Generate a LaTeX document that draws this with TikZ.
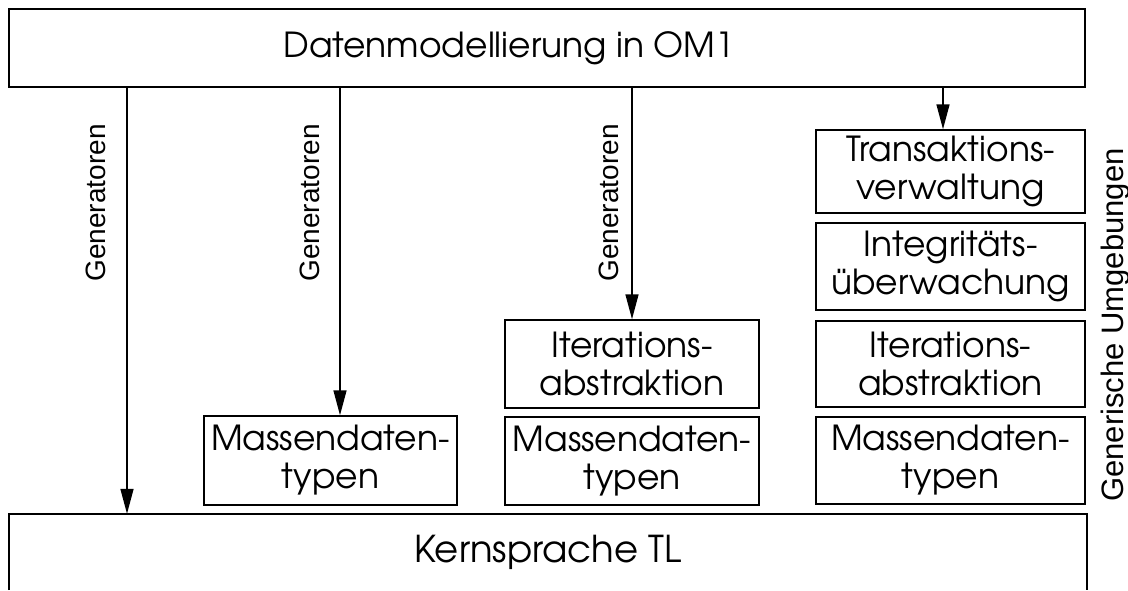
\documentclass[tikz,border=0pt]{standalone}
\usepackage{fontspec}
\setmainfont{texgyreadventor-regular.otf}
\newfontfamily\labelfont{Liberation Sans}
\usetikzlibrary{arrows.meta}

\begin{document}
\begin{tikzpicture}[x={(1pt,0pt)}, y={(0pt,-1pt)},
  boxfont/.style={font=\fontsize{34.5}{38}\selectfont},
  box/.style={draw, line width=1.5pt, inner sep=0pt, align=center, boxfont},
  arr/.style={line width=1.5pt, -{Triangle[length=25pt,width=13pt]}},
  gen/.style={font=\labelfont\fontsize{28}{30}\selectfont, rotate=90, inner sep=0pt}]

\useasboundingbox (0,0) rectangle (1128,590);

% top layer: data modelling
\node[box, minimum width=1076pt, minimum height=78pt] (om1) at (547,48) {};
\node[boxfont, inner sep=0pt, xshift=-38pt] (om1text) at (om1.center) {Datenmodellierung in OM1};

% bottom layer: kernel language, open at the lower edge
\node[inner sep=0pt, minimum width=1078pt, minimum height=76pt,
      font=\fontsize{37}{40}\selectfont] (tl) at (548,552) {Kernsprache TL};
\draw[line width=1.5pt] (tl.south west) -- (tl.north west) -- (tl.north east) -- (tl.south east);

% column 2
\node[box, minimum width=253pt, minimum height=89pt] (m1) at (330.5,460.5) {Massendaten-\\typen};

% column 3
\node[box, minimum width=254pt, minimum height=88pt] (i2) at (632,364) {Iterations-\\abstraktion};
\node[box, minimum width=254pt, minimum height=88pt] (m2) at (632,461) {Massendaten-\\typen};

% column 4: generic environments
\node[box, minimum width=269pt, minimum height=83pt] (t3) at (950.5,171.5) {Transaktions-\\verwaltung};
\node[box, minimum width=269pt, minimum height=87pt] (g3) at (950.5,266.5) {Integritäts-\\überwachung};
\node[box, minimum width=269pt, minimum height=86pt] (i3) at (950.5,364) {Iterations-\\abstraktion};
\node[box, minimum width=269pt, minimum height=87pt] (m3) at (950.5,460.5) {Massendaten-\\typen};

\node[gen, font=\labelfont\fontsize{31}{32}\selectfont] (umg) at (1115,325) {Generische Umgebungen};

% generator arrows
\coordinate (c1) at (127,0);
\coordinate (c2) at (340,0);
\coordinate (c4) at (943,0);
\draw[arr] (om1.south -| c1) -- (tl.north -| c1);
\draw[arr] (om1.south -| c2) -- (m1.north -| c2);
\draw[arr] (om1.south -| i2) -- (i2.north);
\draw[arr] (om1.south -| c4) -- (t3.north -| c4);

\node[gen] (g1) at (96,203) {Generatoren};
\node[gen] (g2) at (310,203) {Generatoren};
\node[gen] (g3l) at (609,203) {Generatoren};

\end{tikzpicture}
\end{document}
